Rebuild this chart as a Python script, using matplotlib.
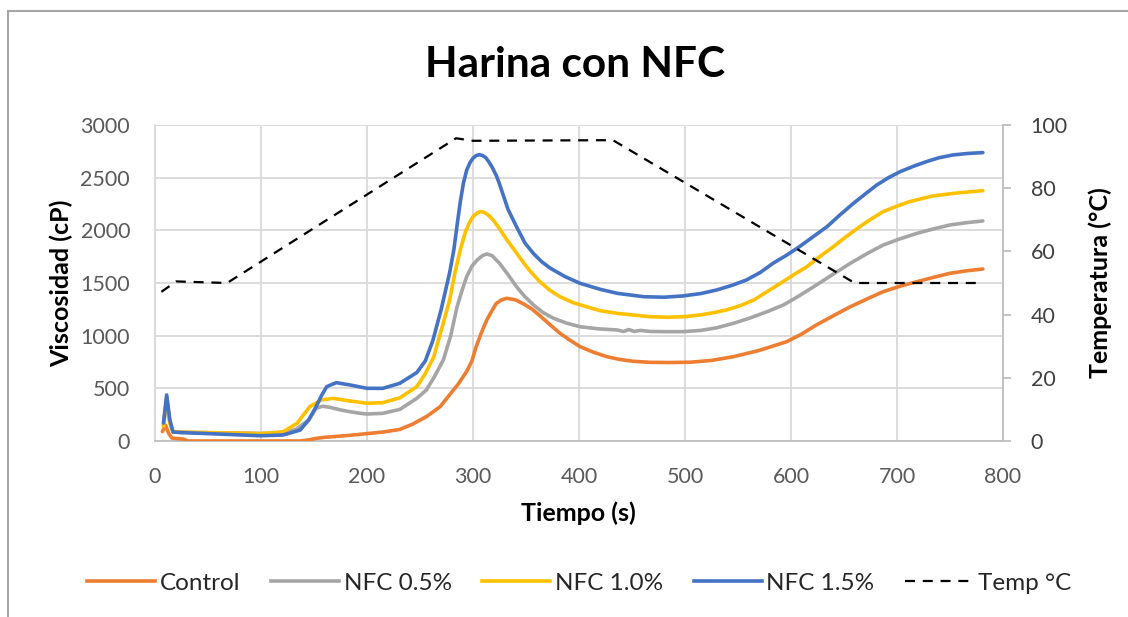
import matplotlib
matplotlib.use("Agg")
import matplotlib.pyplot as plt
from matplotlib.lines import Line2D
from matplotlib.patches import Rectangle

plt.rcParams['font.family'] = ['Lato', 'DejaVu Sans']

# ---- data ----
t_control = [7, 10, 13, 16, 22, 27, 31, 60, 100, 137, 145, 152, 160, 168, 185, 200, 215, 231, 243, 256, 269, 278, 286,
             294, 299, 303, 308, 313, 318, 322, 327, 332, 340, 348, 356, 363, 372, 382, 391, 401, 413, 426, 438, 451, 467,
             485, 505, 525, 546, 570, 596, 610, 624, 640, 656, 672, 687, 703, 719, 735, 750, 765, 781]
v_control = [90, 150, 70, 28, 22, 18, 0, 0, 0, 0, 10, 25, 35, 41, 55, 70, 85, 110, 160, 231, 326, 440, 540,
             660, 760, 896, 1030, 1149, 1240, 1307, 1340, 1355, 1340, 1300, 1250, 1190, 1110, 1023, 960, 896, 845, 801, 775, 757, 747,
             745, 748, 765, 801, 860, 943, 1015, 1102, 1190, 1275, 1350, 1418, 1470, 1513, 1555, 1592, 1615, 1633]

t_nfc05 = [8, 11, 14, 17, 25, 50, 80, 100, 121, 133, 145, 152, 158, 165, 175, 184, 192, 200, 215, 231, 247, 256, 263,
           272, 279, 285, 290, 294, 299, 304, 309, 313, 318, 325, 333, 341, 349, 357, 366, 376, 388, 401, 418, 436, 442,
           447, 452, 458, 467, 482, 498, 515, 530, 546, 562, 578, 593, 608, 624, 640, 656, 671, 687, 703, 719, 735, 750,
           765, 781]
v_nfc05 = [150, 400, 180, 85, 82, 78, 75, 72, 78, 110, 200, 310, 330, 320, 295, 278, 265, 256, 263, 300, 405, 484, 600,
           769, 1000, 1275, 1440, 1560, 1660, 1719, 1760, 1776, 1760, 1687, 1580, 1465, 1370, 1292, 1220, 1165, 1120, 1085, 1065, 1054, 1040,
           1058, 1040, 1050, 1040, 1038, 1038, 1050, 1075, 1118, 1170, 1230, 1292, 1380, 1481, 1585, 1687, 1775, 1861, 1920, 1972, 2015, 2051,
           2072, 2089]

t_nfc10 = [8, 11, 14, 17, 25, 50, 80, 100, 121, 134, 146, 157, 168, 184, 200, 215, 231, 247, 255, 263, 270, 278, 283,
           288, 293, 297, 300, 304, 307, 310, 313, 316, 320, 324, 332, 340, 348, 355, 363, 372, 382, 394, 407, 420, 436, 452, 467, 483,
           499, 514, 527, 539, 552, 565, 577, 590, 602, 615, 627, 640, 652, 665, 676, 687, 700, 712, 723, 734, 757, 781]
v_nfc10 = [140, 410, 170, 90, 85, 80, 75, 70, 88, 168, 326, 390, 405, 380, 358, 364, 410, 516, 640, 800, 1050, 1339, 1600,
           1814, 1990, 2080, 2130, 2165, 2178, 2172, 2155, 2130, 2085, 2030, 1909, 1800, 1687, 1600, 1513, 1435, 1370, 1315, 1275, 1237, 1212, 1195, 1180, 1175,
           1180, 1196, 1218, 1244, 1285, 1339, 1415, 1497, 1575, 1655, 1750, 1845, 1940, 2035, 2110, 2178, 2230, 2273, 2300, 2327, 2355, 2377]

t_nfc15 = [8, 11, 14, 17, 25, 50, 80, 100, 121, 137, 145, 152, 157, 162, 171, 184, 200, 215, 231, 247, 255, 262, 270,
           278, 282, 285, 288, 291, 294, 297, 300, 303, 306, 309, 312, 315, 318, 322, 325, 329, 333, 341, 349, 357, 365, 373, 387, 401, 420, 436, 461, 480, 498,
           515, 530, 545, 558, 571, 583, 596, 608, 621, 634, 646, 659, 670, 681, 692, 703, 716, 728, 740, 753, 767, 781]
v_nfc15 = [170, 437, 200, 85, 80, 70, 58, 50, 57, 104, 200, 326, 430, 516, 554, 532, 500, 500, 548, 650, 760, 950, 1250,
           1600, 1820, 2050, 2270, 2450, 2570, 2640, 2685, 2710, 2718, 2710, 2690, 2650, 2600, 2520, 2440, 2320, 2200, 2035, 1880, 1780, 1700, 1640, 1560, 1497, 1440, 1402, 1370, 1365, 1377,
           1400, 1434, 1480, 1529, 1600, 1687, 1765, 1845, 1940, 2035, 2145, 2257, 2345, 2431, 2500, 2557, 2610, 2653, 2690, 2716, 2730, 2738]

t_temp = [6, 20, 68, 284, 300, 432, 660, 780]
v_temp = [47.2, 50.5, 50.0, 95.8, 95.0, 95.2, 50.0, 50.0]

series = [("Control", t_control, v_control, "#ED7D31"),
          ("NFC 0.5%", t_nfc05, v_nfc05, "#A5A5A5"),
          ("NFC 1.0%", t_nfc10, v_nfc10, "#FFC000"),
          ("NFC 1.5%", t_nfc15, v_nfc15, "#4472C4")]

W, H = 1128, 617
fig = plt.figure(figsize=(W / 100, H / 100), dpi=100)
L, R, T, B = 155, 1003, 125, 441
ax = fig.add_axes([L / W, 1 - B / H, (R - L) / W, (B - T) / H])
ax2 = ax.twinx()

for name, t, v, c in series:
    ax.plot(t, v, color=c, lw=2.6, solid_capstyle='round', solid_joinstyle='round', zorder=3)
ax2.plot(t_temp, v_temp, color='black', lw=1.6, linestyle=(0, (4.5, 3.5)), zorder=3)

ax.set_xlim(0, 800)
ax.set_ylim(0, 3000)
ax2.set_ylim(0, 100)
ax.set_xticks(range(0, 801, 100))
ax.set_yticks(range(0, 3001, 500))
ax2.set_yticks(range(0, 101, 20))

grid_c = '#D9D9D9'
ax.grid(True, color=grid_c, lw=1.3)
ax.set_axisbelow(True)
for s in ['top', 'right']:
    ax.spines[s].set_visible(False)
ax.spines['left'].set_color(grid_c)
ax.spines['bottom'].set_color('#BFBFBF')
ax.spines['left'].set_linewidth(1.3)
ax.spines['bottom'].set_linewidth(1.3)
for s in ['top', 'left', 'bottom']:
    ax2.spines[s].set_visible(False)
ax2.spines['right'].set_color('#BFBFBF')
ax2.spines['right'].set_linewidth(1.3)

tick_c = '#595959'
ax.tick_params(axis='x', length=0, pad=19, labelsize=15.5, labelcolor=tick_c)
ax.tick_params(axis='y', length=0, pad=18, labelsize=15.5, labelcolor=tick_c)
ax2.tick_params(axis='y', length=6, width=1.3, color='#BFBFBF', pad=14, labelsize=15.5, labelcolor='#404040')

fig.text(575 / W, 1 - 65 / H, "Harina con NFC", ha='center', va='center', fontsize=30.5, fontweight='bold', color='black')
fig.text(61 / W, 1 - 283 / H, "Viscosidad (cP)", ha='center', va='center', rotation=90, fontsize=18, fontweight='bold')
fig.text(1100 / W, 1 - 283 / H, "Temperatura (°C)", ha='center', va='center', rotation=90, fontsize=18, fontweight='bold')
fig.text(578 / W, 1 - 513 / H, "Tiempo (s)", ha='center', va='center', fontsize=18, fontweight='bold')

handles = [Line2D([], [], color=c, lw=2.6) for _, _, _, c in series]
handles.append(Line2D([], [], color='black', lw=1.6, linestyle=(0, (4.5, 3.5))))
labels = [s[0] for s in series] + ["Temp °C"]
fig.legend(handles, labels, loc='center', bbox_to_anchor=(579 / W, 1 - 583 / H), ncol=5, frameon=False,
           fontsize=17.5, handlelength=2.8, handletextpad=0.2, columnspacing=1.25, labelcolor='#262626')

fig.patches.append(Rectangle((8 / W, -0.05), 1.2, 1 - 11 / H + 0.05, transform=fig.transFigure,
                             fill=False, edgecolor='#A6A6A6', lw=1.5))

fig.savefig("out.png", dpi=100)
